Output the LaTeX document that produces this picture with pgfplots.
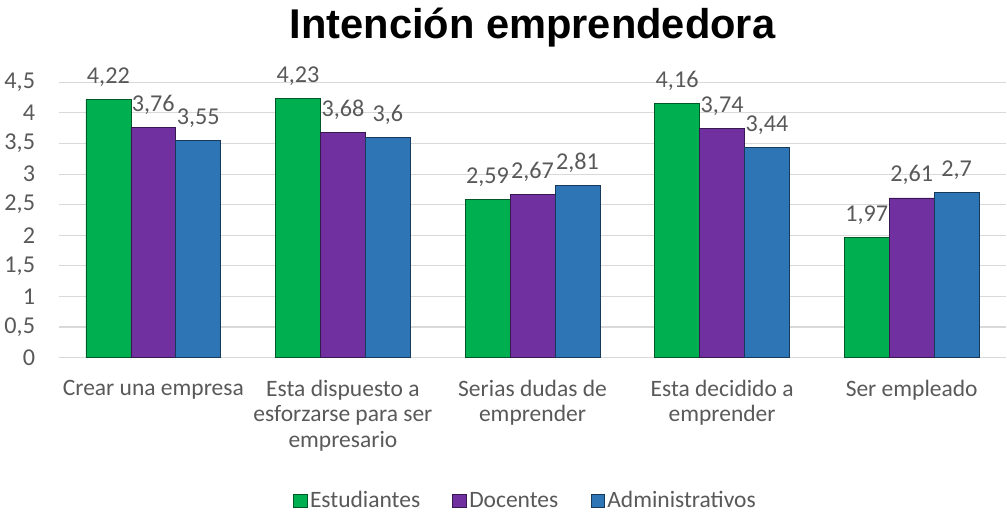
\documentclass[border=0pt]{standalone}
\usepackage{fontspec}
\setmainfont{Carlito}
\newfontfamily\titlefont{Liberation Sans}
\usepackage{pgfplots}
\pgfplotsset{compat=1.18}
\definecolor{est}{HTML}{00B050}
\definecolor{doc}{HTML}{7030A0}
\definecolor{adm}{HTML}{2E75B6}
\definecolor{txt}{HTML}{595959}
\definecolor{grd}{HTML}{D9D9D9}

\begin{document}
\begin{tikzpicture}
\begin{axis}[
  scale only axis,
  width=706pt, height=205pt,
  ybar, bar width=33.5pt, ybar=0pt,
  xmin=-0.5, xmax=4.5,
  ymin=0, ymax=4.5,
  ytick distance=0.5,
  xtick=data,
  xticklabels={Crear una empresa, {Esta dispuesto a\\esforzarse para ser\\empresario}, {Serias dudas de\\emprender}, {Esta decidido a\\emprender}, Ser empleado},
  x tick label style={align=center, font=\fontsize{17.5}{19}\selectfont, text=txt, yshift=-13pt},
  y tick label style={font=\fontsize{18}{20}\selectfont, text=txt},
  /pgf/number format/use comma,
  /pgf/number format/assume math mode=true,
  ymajorgrids, grid style={grd, line width=0.8pt},
  axis line style={draw=none},
  axis x line*=bottom,
  x axis line style={draw=grd, line width=0.8pt},
  tick style={draw=none},
  major tick length=0pt,
  yticklabel style={xshift=-14pt},
  nodes near coords,
  every node near coord/.append style={font=\fontsize{18}{20}\selectfont, text=txt, yshift=6pt, /pgf/number format/assume math mode=true},
  title={\titlefont\bfseries\fontsize{31}{34}\selectfont Intención emprendedora},
  title style={yshift=17pt, text height=25pt},
  legend style={at={(0.493,-0.52)}, anchor=center, draw=none, legend columns=3,
    font=\fontsize{17.5}{19}\selectfont, text=txt,
    /tikz/every even column/.append style={column sep=22pt}},
  legend image code/.code={\fill[#1] (0pt,-5pt) rectangle (10pt,5pt);},
  clip=false,
]
\addplot[draw=est!50!black, line width=0.5pt, fill=est]
  coordinates {(0,4.22) (1,4.23) (2,2.59) (3,4.16) (4,1.97)};
\addplot[draw=doc!50!black, line width=0.5pt, fill=doc]
  coordinates {(0,3.76) (1,3.68) (2,2.67) (3,3.74) (4,2.61)};
\addplot[draw=adm!50!black, line width=0.5pt, fill=adm]
  coordinates {(0,3.55) (1,3.6) (2,2.81) (3,3.44) (4,2.7)};
\legend{Estudiantes, Docentes, Administrativos}
\end{axis}
\end{tikzpicture}
\end{document}
